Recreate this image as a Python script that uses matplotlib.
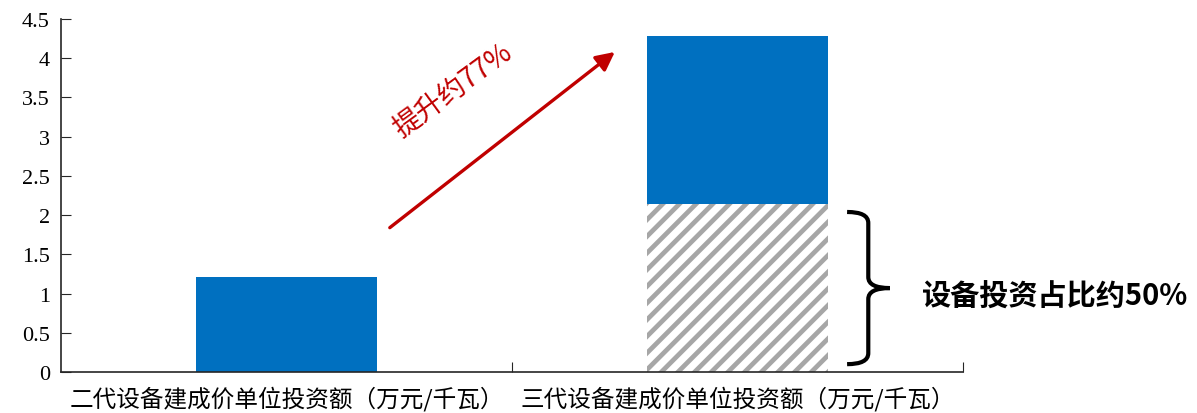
import matplotlib
matplotlib.use("Agg")
import matplotlib.pyplot as plt
import numpy as np
from matplotlib.path import Path
from matplotlib.patches import PathPatch
from matplotlib.ticker import FuncFormatter, FixedLocator

# data
categories = ['二代设备建成价单位投资额（万元/千瓦）', '三代设备建成价单位投资额（万元/千瓦）']
total = np.array([1.21, 4.28])       # unit investment, 10k yuan / kW
equipment = np.array([0.0, 2.14])    # equipment share of the 3rd gen bar
rise_label = '提升约77%'
share_label = '设备投资占比约50%'

blue = '#0070C0'
red = '#C00000'
grey = '#A6A6A6'

plt.rcParams['font.family'] = ['Noto Sans CJK SC', 'DejaVu Sans']
plt.rcParams['hatch.linewidth'] = 3.4

fig = plt.figure(figsize=(11.97, 4.14), dpi=100)
ax = fig.add_axes([0.051, 0.099, 0.7535, 0.8527])

x = np.arange(len(categories))
width = 0.4

# hatched equipment part, then the solid remainder on top
ax.bar(x, equipment, width, color='white', edgecolor=grey, hatch='//', linewidth=0)
ax.bar(x, total - equipment, width, bottom=equipment, color=blue, linewidth=0)

ax.set_xlim(-0.5, len(categories) - 0.5)
ax.set_ylim(0, 4.5)

# axes look
for s in ['top', 'right']:
    ax.spines[s].set_visible(False)
for s in ['left', 'bottom']:
    ax.spines[s].set_color('#262626')
    ax.spines[s].set_linewidth(1.2)

ax.set_yticks(np.arange(0, 4.51, 0.5))
ax.yaxis.set_major_formatter(FuncFormatter(lambda v, p: '%g' % v))
ax.tick_params(axis='y', direction='in', length=7, pad=8, labelsize=16,
               color='#262626', labelfontfamily='Liberation Serif')

# category boundaries get the tick marks, the centres get the labels
ax.xaxis.set_major_locator(FixedLocator(np.arange(0.5, len(categories), 1.0)))
ax.xaxis.set_major_formatter(FuncFormatter(lambda v, p: ''))
ax.xaxis.set_minor_locator(FixedLocator(x))
ax.set_xticklabels(categories, minor=True)
ax.tick_params(axis='x', which='major', direction='in', length=7, color='#262626')
ax.tick_params(axis='x', which='minor', length=0, pad=10, labelsize=17)

# red arrow with label
ax.annotate('', xy=(0.728, 4.08), xytext=(0.229, 1.84),
            arrowprops=dict(arrowstyle='-|>', color=red, lw=2.4, mutation_scale=28,
                            shrinkA=0, shrinkB=0))
ax.text(0.369, 3.6, rise_label, color=red, fontsize=20, rotation=36,
        rotation_mode='anchor', ha='center', va='center')

# curly brace next to the hatched part
top = equipment[1] - 0.1
bot = 0.1
mid = (top + bot) / 2
x0, x1, x2 = 1.243, 1.29, 1.338
r = 0.14
verts = [(x0, top), (x1, top), (x1, top - r),
         (x1, mid + r),
         (x1, mid), (x2, mid),
         (x1, mid), (x1, mid - r),
         (x1, bot + r),
         (x1, bot), (x0, bot)]
codes = [Path.MOVETO, Path.CURVE3, Path.CURVE3,
         Path.LINETO,
         Path.CURVE3, Path.CURVE3,
         Path.CURVE3, Path.CURVE3,
         Path.LINETO,
         Path.CURVE3, Path.CURVE3]
ax.add_patch(PathPatch(Path(verts, codes), fill=False, lw=3, color='black',
                       capstyle='butt', clip_on=False))
ax.text(1.409, mid - 0.1, share_label, fontsize=21, fontweight='bold',
        ha='left', va='center', clip_on=False)

fig.savefig('out.png', dpi=100)
